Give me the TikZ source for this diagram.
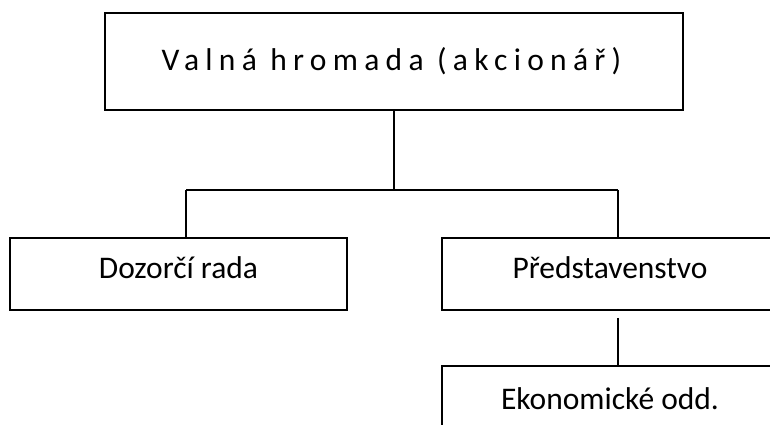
\documentclass[tikz,border=0pt]{standalone}
\usepackage{fontspec}
\setmainfont{Carlito}
\newfontfamily\spacedfont[LetterSpace=20]{Carlito}
\begin{document}
\begin{tikzpicture}[x=1pt,y=1pt,
  orgbox/.style={draw=black, line width=1.6pt, rectangle, inner sep=0pt, outer sep=0pt,
    font=\fontsize{31.5}{37}\selectfont},
  conn/.style={draw=black, line width=1.6pt},
  thinconn/.style={draw=black, line width=1.1pt}]
\useasboundingbox (0,0) rectangle (770,425);
\node[orgbox, minimum width=578pt, minimum height=97pt, text height=20pt, text depth=1pt]
  (top) at (394,363.5) {\spacedfont Valná hromada (akcionář)\hspace*{5pt}};
\node[orgbox, minimum width=337pt, minimum height=72pt, text height=20pt, text depth=10pt]
  (dozor) at (178.5,151) {Dozorčí rada};
\node[orgbox, minimum width=336pt, minimum height=72pt, text height=20pt, text depth=10pt]
  (pred) at (610,151) {Představenstvo};
\node[orgbox, minimum width=336pt, minimum height=72pt, text height=20pt, text depth=4pt]
  (eko) at (610,23) {Ekonomické odd.};
\coordinate (bl) at (186,235);
\coordinate (br) at (618,235);
\coordinate (c1) at (618,107);
\draw[conn] (top.south) -- (top.south |- bl);
\draw[conn] (bl) -- (br);
\draw[conn] (bl) -- (bl |- dozor.north);
\draw[conn] (br) -- (br |- pred.north);
\draw[thinconn] (c1) -- (c1 |- eko.north);
\end{tikzpicture}
\end{document}
